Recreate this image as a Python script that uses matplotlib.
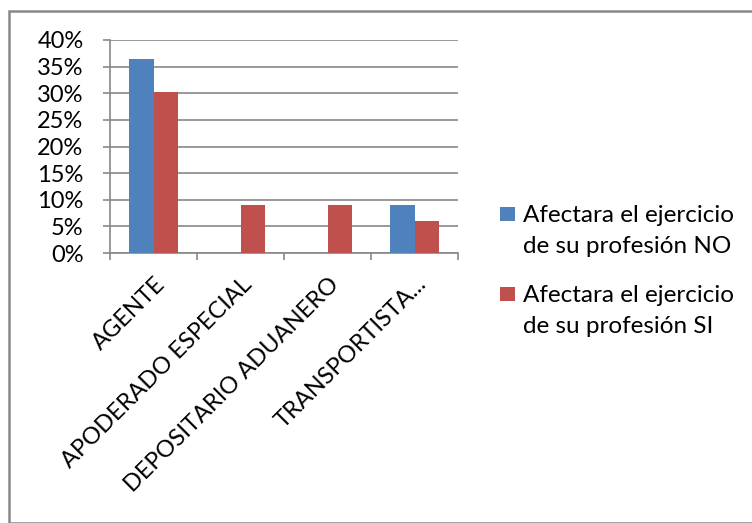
import matplotlib.pyplot as plt
from matplotlib.patches import Rectangle
from matplotlib.ticker import PercentFormatter
import numpy as np

categorias = ["AGENTE", "APODERADO ESPECIAL", "DEPOSITARIO ADUANERO", "TRANSPORTISTA..."]
serie_no = [12 / 33, 0, 0, 3 / 33]
serie_si = [10 / 33, 3 / 33, 3 / 33, 2 / 33]
nombres = [["Afectara el ejercicio", "de su profesión NO"],
           ["Afectara el ejercicio", "de su profesión SI"]]
colores = ["#4F81BD", "#C0504D"]

plt.rcParams['font.family'] = ['Lato', 'DejaVu Sans']

W, H = 752, 523
fig = plt.figure(figsize=(W / 100, H / 100), dpi=100)

# borde del grafico (solo visible arriba e izquierda)
fig.patches.append(Rectangle((9 / W, 0), 1.2, (H - 11) / H, transform=fig.transFigure,
                             fill=False, edgecolor="#888888", linewidth=1.8))

ax = fig.add_axes([110 / W, (H - 253) / H, 348 / W, 213 / H])

x = np.arange(len(categorias))
ancho = 1 / 3.5
ax.bar(x - ancho / 2, serie_no, ancho, color=colores[0], zorder=3)
ax.bar(x + ancho / 2, serie_si, ancho, color=colores[1], zorder=3)

ax.set_xlim(-0.5, len(categorias) - 0.5)
ax.set_ylim(0, 0.40)
ax.set_yticks(np.arange(0, 0.41, 0.05))
ax.yaxis.set_major_formatter(PercentFormatter(1, decimals=0))
ax.grid(axis="y", color="#888888", linewidth=1.2, zorder=0)

for s in ["top", "right"]:
    ax.spines[s].set_visible(False)
for s in ["left", "bottom"]:
    ax.spines[s].set_color("#888888")
    ax.spines[s].set_linewidth(1.2)

ax.tick_params(axis="y", length=5, width=1.2, color="#888888", labelsize=17, pad=14)
ax.set_xticks(np.arange(-0.5, len(categorias), 1))
ax.set_xticklabels([])
ax.tick_params(axis="x", length=5, width=1.2, color="#888888")

for i, c in enumerate(categorias):
    ax.annotate(c, xy=(i, 0), xycoords="data", xytext=(6, -20), textcoords="offset points",
                rotation=45, rotation_mode="anchor", ha="right", va="center", fontsize=17)

# leyenda a mano: cuadro alineado con la primera linea, como en Excel
for k, (lineas, col) in enumerate(zip(nombres, colores)):
    top = 207 + k * 80
    fig.patches.append(Rectangle((500 / W, 1 - (top + 14) / H), 15 / W, 14 / H,
                                 transform=fig.transFigure, facecolor=col, edgecolor="none"))
    for j, t in enumerate(lineas):
        fig.text(523 / W, 1 - (top + 15 + j * 31) / H, t, fontsize=17.5,
                 ha="left", va="baseline")

fig.savefig("out.png", dpi=100)
